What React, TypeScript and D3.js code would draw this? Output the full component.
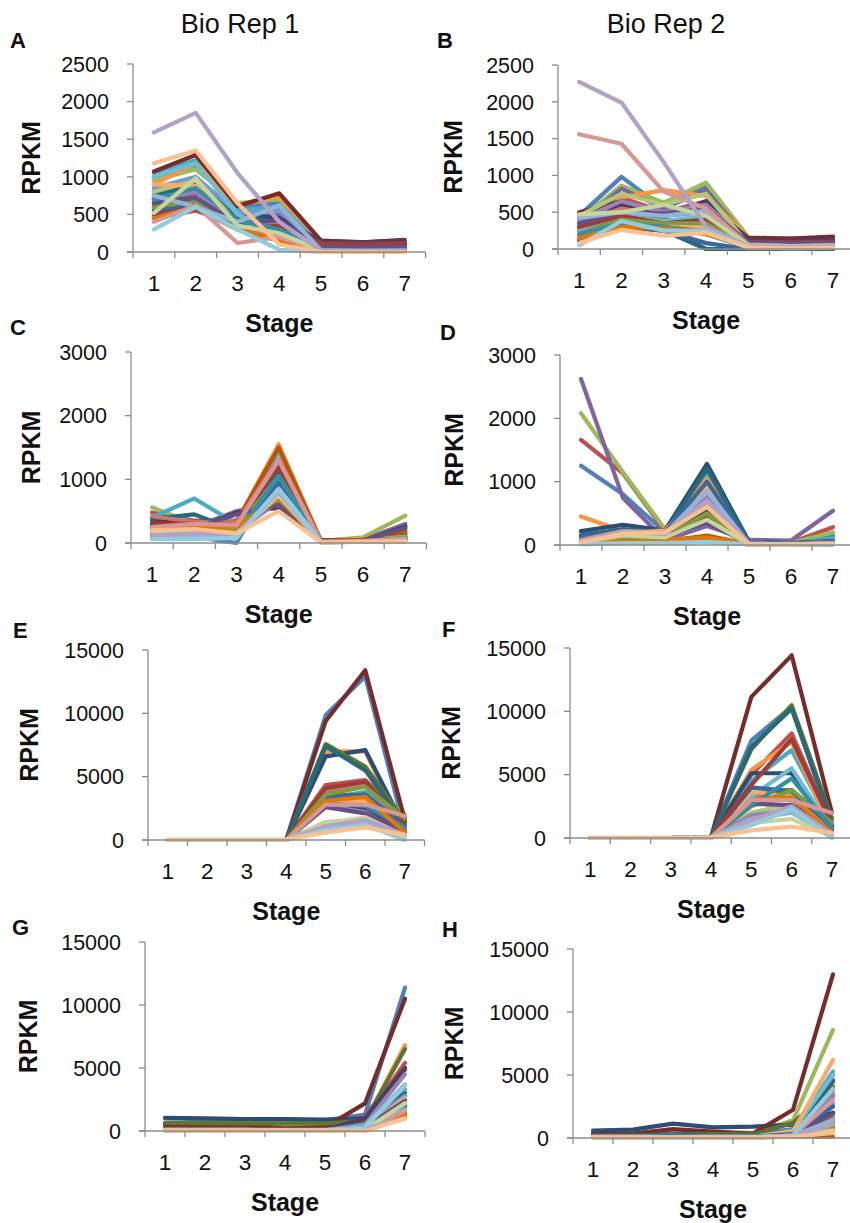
import React from "react";
import * as d3 from "d3";

const STAGES = ["1", "2", "3", "4", "5", "6", "7"];
const TICKS_LOW = [0, 500, 1000, 1500, 2000, 2500];
const TICKS_MID = [0, 1000, 2000, 3000];
const TICKS_HIGH = [0, 5000, 10000, 15000];
const REP_TITLES = ["Bio Rep 1", "Bio Rep 2"];
const PANEL_LETTERS = ["A", "B", "C", "D", "E", "F", "G", "H"];

const PALETTE = [
  "#4F81BD", "#C0504D", "#9BBB59", "#8064A2", "#4BACC6", "#F79646",
  "#2C4D75", "#772C2A", "#5F7530", "#4D3B62", "#276A7C", "#B65708",
  "#729ACA", "#CD7371", "#AFC97A", "#9983B5", "#6FBDD1", "#F9AB6B",
  "#3A679C", "#9F3B38", "#7E9C40", "#664F83", "#358EA6", "#E17709",
  "#95B3D7", "#D99694", "#C3D69B", "#B3A2C7", "#93CDDD", "#FAC090",
];

const SERIES_A = [
  [1000, 1150, 600, 650, 120, 110, 130],
  [450, 550, 350, 450, 100, 100, 80],
  [950, 1100, 650, 700, 150, 120, 140],
  [700, 750, 450, 500, 90, 90, 100],
  [1050, 1220, 550, 600, 120, 110, 120],
  [900, 1180, 620, 740, 140, 120, 140],
  [800, 950, 500, 450, 110, 100, 110],
  [1070, 1290, 610, 780, 150, 130, 160],
  [650, 800, 450, 350, 80, 70, 80],
  [600, 700, 400, 450, 140, 130, 150],
  [750, 900, 480, 400, 100, 90, 100],
  [550, 650, 350, 300, 60, 50, 60],
  [850, 1000, 520, 550, 60, 50, 60],
  [500, 600, 300, 200, 40, 40, 50],
  [800, 950, 400, 300, 30, 30, 40],
  [700, 800, 350, 400, 40, 30, 40],
  [1000, 1180, 500, 250, 20, 20, 30],
  [900, 880, 400, 200, 10, 10, 10],
  [550, 620, 350, 250, 50, 40, 50],
  [500, 580, 300, 350, 120, 110, 120],
  [600, 680, 300, 150, 20, 20, 20],
  [650, 720, 380, 420, 60, 60, 70],
  [700, 850, 420, 300, 30, 20, 30],
  [450, 600, 300, 150, 10, 10, 10],
  [750, 600, 400, 620, 20, 10, 20],
  [400, 620, 120, 200, 10, 10, 10],
  [520, 980, 350, 250, 20, 10, 10],
  [1590, 1850, 1050, 400, 20, 20, 20],
  [300, 600, 300, 30, 0, 0, 0],
  [1180, 1350, 650, 100, 0, 0, 0],
];

const SERIES_B = [
  [450, 980, 550, 850, 80, 70, 80],
  [480, 700, 500, 650, 100, 90, 100],
  [400, 860, 630, 900, 160, 140, 150],
  [350, 820, 550, 800, 120, 110, 120],
  [300, 600, 500, 600, 90, 80, 90],
  [200, 700, 800, 720, 150, 140, 150],
  [150, 350, 300, 0, 0, 0, 0],
  [500, 650, 480, 600, 150, 140, 170],
  [250, 450, 400, 300, 50, 40, 50],
  [300, 600, 450, 650, 120, 110, 130],
  [120, 300, 250, 0, 0, 0, 0],
  [200, 400, 350, 250, 80, 70, 80],
  [250, 500, 450, 500, 60, 50, 60],
  [350, 550, 450, 550, 80, 60, 70],
  [450, 750, 600, 750, 60, 50, 60],
  [400, 650, 500, 600, 70, 60, 60],
  [280, 450, 380, 450, 50, 40, 50],
  [150, 400, 350, 300, 40, 30, 40],
  [100, 300, 250, 80, 0, 0, 0],
  [300, 450, 350, 400, 100, 90, 100],
  [200, 400, 350, 350, 40, 30, 40],
  [350, 500, 480, 550, 90, 80, 90],
  [200, 350, 300, 200, 20, 10, 20],
  [150, 300, 280, 200, 50, 40, 50],
  [420, 500, 450, 520, 40, 30, 40],
  [1560, 1430, 780, 550, 60, 40, 40],
  [470, 500, 600, 450, 50, 40, 50],
  [2270, 1990, 1180, 300, 40, 30, 40],
  [50, 380, 250, 250, 20, 10, 20],
  [80, 260, 180, 220, 20, 10, 20],
];

const SERIES_C = [
  [150, 100, 0, 1150, 30, 40, 150],
  [480, 350, 350, 1300, 40, 50, 100],
  [560, 300, 280, 1200, 30, 90, 430],
  [250, 250, 500, 620, 40, 50, 300],
  [400, 700, 300, 1450, 30, 50, 150],
  [300, 320, 330, 1550, 40, 60, 230],
  [200, 200, 150, 1000, 30, 40, 120],
  [350, 300, 300, 1250, 40, 50, 80],
  [300, 280, 250, 1100, 30, 40, 200],
  [280, 220, 480, 550, 30, 40, 260],
  [380, 450, 200, 1100, 30, 40, 100],
  [250, 300, 330, 1500, 30, 50, 180],
  [100, 120, 100, 900, 20, 30, 80],
  [420, 330, 320, 1320, 30, 40, 60],
  [200, 200, 200, 1000, 20, 30, 100],
  [180, 180, 180, 650, 20, 30, 50],
  [150, 150, 120, 800, 20, 30, 60],
  [200, 250, 200, 750, 20, 30, 50],
  [120, 130, 150, 950, 20, 30, 70],
  [300, 300, 280, 1200, 30, 40, 60],
  [220, 200, 220, 1050, 20, 30, 90],
  [260, 230, 450, 600, 20, 30, 240],
  [140, 120, 130, 1050, 20, 30, 60],
  [220, 260, 250, 700, 20, 30, 40],
  [80, 100, 100, 850, 10, 20, 40],
  [250, 300, 280, 1300, 20, 30, 70],
  [180, 180, 150, 750, 10, 20, 30],
  [120, 150, 130, 800, 10, 20, 40],
  [60, 60, 80, 850, 10, 20, 20],
  [200, 220, 150, 500, 10, 20, 30],
];

const SERIES_D = [
  [1250, 800, 200, 1100, 60, 30, 150],
  [1660, 1130, 220, 580, 80, 40, 280],
  [2080, 1150, 250, 480, 60, 30, 200],
  [2620, 740, 80, 300, 80, 70, 540],
  [200, 150, 150, 1150, 50, 30, 100],
  [450, 220, 250, 1050, 0, 20, 60],
  [220, 320, 230, 1280, 50, 30, 60],
  [100, 100, 150, 600, 40, 20, 50],
  [50, 80, 100, 700, 30, 20, 40],
  [80, 120, 130, 550, 30, 20, 40],
  [150, 250, 200, 1200, 40, 20, 60],
  [20, 80, 60, 150, 10, 10, 20],
  [100, 200, 200, 950, 40, 20, 50],
  [60, 180, 180, 650, 30, 20, 40],
  [50, 150, 150, 800, 30, 20, 30],
  [80, 200, 180, 750, 30, 20, 40],
  [30, 50, 40, 80, 20, 10, 10],
  [60, 180, 230, 900, 20, 10, 40],
  [120, 220, 200, 1000, 40, 20, 50],
  [50, 100, 120, 450, 20, 10, 30],
  [40, 120, 130, 500, 20, 10, 30],
  [70, 150, 150, 350, 20, 10, 30],
  [20, 40, 50, 100, 10, 10, 10],
  [30, 60, 80, 120, 10, 10, 20],
  [60, 200, 180, 850, 20, 10, 30],
  [80, 220, 200, 650, 20, 10, 30],
  [40, 150, 120, 400, 10, 10, 20],
  [50, 210, 170, 700, 20, 10, 30],
  [10, 30, 30, 50, 10, 10, 10],
  [40, 180, 200, 600, 10, 10, 20],
];

const SERIES_E = [
  [0, 0, 0, 0, 9860, 12900, 800],
  [0, 0, 0, 0, 4340, 4730, 1800],
  [0, 0, 0, 0, 3500, 4500, 2000],
  [0, 0, 0, 0, 3000, 2300, 1200],
  [0, 0, 0, 0, 3300, 3800, 1500],
  [0, 0, 0, 0, 7000, 7000, 500],
  [0, 0, 0, 0, 6600, 7100, 1000],
  [0, 0, 0, 0, 9400, 13400, 1600],
  [0, 0, 0, 0, 7570, 5800, 1500],
  [0, 0, 0, 0, 2800, 2500, 900],
  [0, 0, 0, 0, 7400, 5500, 1200],
  [0, 0, 0, 0, 3600, 3500, 600],
  [0, 0, 0, 0, 2700, 2200, 400],
  [0, 0, 0, 0, 3800, 4300, 1300],
  [0, 0, 0, 0, 1400, 1700, 700],
  [0, 0, 0, 0, 1200, 1500, 500],
  [0, 0, 0, 0, 3200, 3200, 900],
  [0, 0, 0, 0, 3000, 3100, 800],
  [0, 0, 0, 0, 3400, 3600, 1100],
  [0, 0, 0, 0, 4100, 4600, 1400],
  [0, 0, 0, 0, 3600, 4200, 1700],
  [0, 0, 0, 0, 2600, 2100, 700],
  [0, 0, 0, 0, 2900, 2700, 1000],
  [0, 0, 0, 0, 3100, 3400, 600],
  [0, 0, 0, 0, 1000, 1400, 200],
  [0, 0, 0, 0, 2800, 2800, 1900],
  [0, 0, 0, 0, 1300, 1800, 300],
  [0, 0, 0, 0, 1100, 1600, 400],
  [0, 0, 0, 0, 800, 1200, 0],
  [40, 40, 40, 40, 600, 1000, 400],
];

const SERIES_F = [
  [0, 0, 0, 100, 7700, 10350, 1000],
  [0, 0, 0, 80, 5000, 8260, 1000],
  [0, 0, 0, 60, 3000, 3500, 1600],
  [0, 0, 0, 50, 3800, 3000, 800],
  [0, 0, 0, 60, 4500, 6950, 900],
  [0, 0, 0, 60, 5370, 7600, 600],
  [0, 0, 0, 80, 5110, 5110, 800],
  [0, 0, 0, 100, 11140, 14420, 1970],
  [0, 0, 0, 80, 7000, 10490, 1500],
  [0, 0, 0, 50, 3500, 3000, 700],
  [0, 0, 0, 70, 7200, 10200, 1200],
  [0, 0, 0, 50, 3500, 3800, 500],
  [0, 0, 0, 40, 2800, 2500, 400],
  [0, 0, 0, 50, 3300, 3100, 1300],
  [0, 0, 0, 40, 2000, 2700, 300],
  [0, 0, 0, 40, 1800, 2200, 300],
  [0, 0, 0, 40, 3300, 5500, 700],
  [0, 0, 0, 40, 3700, 3200, 500],
  [0, 0, 0, 50, 4000, 3700, 900],
  [0, 0, 0, 60, 4200, 7800, 1100],
  [0, 0, 0, 40, 2500, 3800, 1200],
  [0, 0, 0, 40, 2700, 2600, 600],
  [0, 0, 0, 40, 2600, 4700, 800],
  [0, 0, 0, 40, 3000, 3200, 400],
  [0, 0, 0, 30, 1500, 2000, 200],
  [0, 0, 0, 30, 3000, 3000, 1970],
  [0, 0, 0, 30, 1200, 1500, 100],
  [0, 0, 0, 30, 1400, 2500, 300],
  [0, 0, 0, 30, 1000, 2300, 0],
  [40, 40, 40, 50, 600, 900, 400],
];

const SERIES_G = [
  [1000, 950, 900, 900, 850, 1300, 11380],
  [300, 300, 300, 300, 300, 900, 5400],
  [600, 600, 600, 550, 550, 700, 3000],
  [100, 100, 100, 100, 200, 1300, 4830],
  [100, 100, 100, 100, 100, 600, 3300],
  [100, 100, 100, 100, 100, 700, 6800],
  [1050, 1000, 950, 950, 900, 1000, 2000],
  [500, 500, 500, 200, 300, 2190, 10500],
  [650, 620, 600, 600, 600, 800, 6500],
  [100, 100, 100, 100, 100, 1000, 5000],
  [100, 100, 100, 100, 100, 500, 3000],
  [50, 50, 50, 50, 50, 300, 2500],
  [50, 50, 50, 50, 50, 400, 2800],
  [50, 50, 50, 50, 50, 300, 2200],
  [50, 50, 50, 50, 50, 200, 1800],
  [50, 50, 50, 50, 50, 500, 4500],
  [50, 50, 50, 50, 50, 400, 3700],
  [50, 50, 50, 50, 50, 200, 2600],
  [50, 50, 50, 50, 50, 300, 2100],
  [50, 50, 50, 50, 50, 200, 1500],
  [50, 50, 50, 50, 50, 100, 1200],
  [50, 50, 50, 50, 50, 300, 2400],
  [50, 50, 50, 50, 50, 200, 1900],
  [50, 50, 50, 50, 50, 100, 1300],
  [50, 50, 50, 50, 50, 200, 1700],
  [50, 50, 50, 50, 50, 100, 1600],
  [50, 50, 50, 50, 50, 100, 2200],
  [100, 100, 100, 100, 100, 200, 1000],
  [50, 50, 50, 50, 50, 300, 3600],
  [50, 50, 50, 50, 50, 0, 1000],
];

const SERIES_H = [
  [300, 300, 400, 300, 300, 700, 4620],
  [200, 200, 300, 200, 200, 600, 3800],
  [300, 300, 500, 400, 400, 1400, 8580],
  [100, 100, 200, 100, 100, 400, 3400],
  [100, 100, 200, 100, 100, 500, 5280],
  [100, 100, 200, 100, 100, 300, 4200],
  [580, 660, 1135, 850, 900, 1056, 2000],
  [300, 350, 700, 500, 350, 2240, 12990],
  [200, 200, 300, 300, 300, 1200, 4000],
  [100, 100, 200, 100, 100, 500, 2000],
  [200, 200, 300, 200, 200, 600, 4500],
  [50, 50, 50, 50, 50, 100, 100],
  [100, 100, 200, 100, 100, 400, 2700],
  [100, 100, 150, 100, 100, 300, 3500],
  [50, 50, 100, 50, 50, 300, 1700],
  [100, 100, 150, 100, 100, 400, 3300],
  [100, 100, 150, 100, 100, 600, 5000],
  [100, 100, 150, 100, 100, 500, 6200],
  [100, 100, 150, 100, 100, 300, 2500],
  [50, 50, 100, 50, 50, 200, 1200],
  [50, 50, 100, 50, 50, 200, 1500],
  [50, 50, 100, 50, 50, 300, 1900],
  [50, 50, 100, 50, 50, 200, 1000],
  [50, 50, 50, 50, 50, 100, 800],
  [50, 50, 50, 50, 50, 200, 1400],
  [50, 50, 50, 50, 50, 200, 3000],
  [50, 50, 50, 50, 50, 100, 600],
  [50, 50, 50, 50, 50, 100, 1100],
  [50, 50, 50, 50, 50, 200, 3900],
  [50, 50, 50, 50, 50, 100, 400],
];

const SERIES_ALL = [SERIES_A, SERIES_B, SERIES_C, SERIES_D, SERIES_E, SERIES_F, SERIES_G, SERIES_H];
const TICKS_ALL = [TICKS_LOW, TICKS_LOW, TICKS_MID, TICKS_MID, TICKS_HIGH, TICKS_HIGH, TICKS_HIGH, TICKS_HIGH];

// layout (pixel positions only)
const LAYOUT = [
  { x0: 133, step: 41.8, yTop: 64, yZero: 252, lx: 10, ly: 48, rx: 40 },
  { x0: 558, step: 42.3, yTop: 65, yZero: 249, lx: 437, ly: 48, rx: 462 },
  { x0: 131, step: 42.2, yTop: 352, yZero: 543, lx: 10, ly: 335, rx: 40 },
  { x0: 560, step: 42, yTop: 355, yZero: 545, lx: 440, ly: 340, rx: 463 },
  { x0: 148, step: 39.5, yTop: 650, yZero: 840, lx: 13, ly: 638, rx: 38 },
  { x0: 570, step: 40.3, yTop: 648, yZero: 838, lx: 442, ly: 637, rx: 460 },
  { x0: 145, step: 40, yTop: 942, yZero: 1131, lx: 12, ly: 935, rx: 37 },
  { x0: 573, step: 40, yTop: 949, yZero: 1138, lx: 442, ly: 937, rx: 463 },
];
const TITLE_POS = [
  { x: 240, y: 33 },
  { x: 666, y: 33 },
];

const FONT = "'Liberation Sans', Arial, Helvetica, sans-serif";
const AXIS_COLOR = "#8c8c8c";

function Panel({ idx }: { idx: number }) {
  const L = LAYOUT[idx];
  const series = SERIES_ALL[idx];
  const ticks = TICKS_ALL[idx];
  const x = d3.scaleBand<string>().domain(STAGES).range([L.x0, L.x0 + L.step * STAGES.length]).padding(0);
  const y = d3.scaleLinear().domain([0, ticks[ticks.length - 1]]).range([L.yZero, L.yTop]);
  const cx = (s: string) => (x(s) as number) + x.bandwidth() / 2;
  const line = d3
    .line<number>()
    .x((_, i) => cx(STAGES[i]))
    .y((v) => y(v));
  const boundaries = STAGES.map((s) => x(s) as number).concat([L.x0 + L.step * STAGES.length]);
  const midY = (L.yTop + L.yZero) / 2;
  const midX = L.x0 + (L.step * STAGES.length) / 2;
  return (
    <g>
      <line x1={L.x0} x2={L.x0} y1={L.yZero} y2={L.yTop} stroke={AXIS_COLOR} strokeWidth={1.3} />
      {ticks.map((t) => (
        <g key={"yt" + t}>
          <line x1={L.x0 - 6} x2={L.x0} y1={y(t)} y2={y(t)} stroke={AXIS_COLOR} strokeWidth={1.3} />
          <text x={L.x0 - 24} y={y(t)} dy="0.36em" textAnchor="end" fontSize={21.5} fontFamily={FONT} fill="#111">
            {t}
          </text>
        </g>
      ))}
      {series.map((vals, i) => (
        <path
          key={"s" + i}
          d={line(vals) || ""}
          fill="none"
          stroke={PALETTE[i % PALETTE.length]}
          strokeWidth={4.2}
          strokeLinejoin="round"
          strokeLinecap="round"
        />
      ))}
      <line x1={L.x0 - 6} x2={boundaries[boundaries.length - 1]} y1={L.yZero} y2={L.yZero} stroke={AXIS_COLOR} strokeWidth={1.3} />
      {boundaries.map((b, i) => (
        <line key={"xt" + i} x1={b} x2={b} y1={L.yZero} y2={L.yZero + 6} stroke={AXIS_COLOR} strokeWidth={1.3} />
      ))}
      {STAGES.map((s) => (
        <text key={"xl" + s} x={cx(s)} y={L.yZero + 39} textAnchor="middle" fontSize={22.5} fontFamily={FONT} fill="#111">
          {s}
        </text>
      ))}
      <text x={midX} y={L.yZero + 80} textAnchor="middle" fontSize={25} fontWeight="bold" fontFamily={FONT} fill="#111">
        Stage
      </text>
      <text
        transform={`translate(${L.rx},${midY}) rotate(-90)`}
        textAnchor="middle"
        fontSize={25}
        fontWeight="bold"
        fontFamily={FONT}
        fill="#111"
      >
        RPKM
      </text>
      <text x={L.lx} y={L.ly} fontSize={22} fontWeight="bold" fontFamily={FONT} fill="#111">
        {PANEL_LETTERS[idx]}
      </text>
    </g>
  );
}

export default function App() {
  return (
    <svg
      width={850}
      height={1223}
      style={{ position: "absolute", left: 0, top: 0, background: "#fff" }}
      xmlns="http://www.w3.org/2000/svg"
    >
      <rect x={0} y={0} width={850} height={1223} fill="#fff" />
      {REP_TITLES.map((t, i) => (
        <text key={t} x={TITLE_POS[i].x} y={TITLE_POS[i].y} textAnchor="middle" fontSize={27} fontFamily={FONT} fill="#111">
          {t}
        </text>
      ))}
      {LAYOUT.map((_, i) => (
        <Panel key={i} idx={i} />
      ))}
    </svg>
  );
}
